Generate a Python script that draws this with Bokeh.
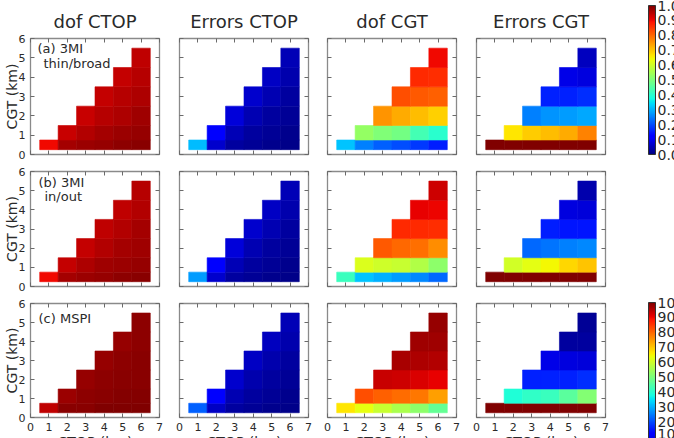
import numpy as np
from bokeh.plotting import figure
from bokeh.models import (ColorBar, Label, LinearAxis, LinearColorMapper,
                          SingleIntervalTicker, FixedTicker, PrintfTickFormatter,
                          ColumnDataSource, AllLabels)
from bokeh.layouts import gridplot, row
from bokeh.embed import file_html
from bokeh.resources import INLINE

# ---------------------------------------------------------------- data
CTOP = [1, 2, 3, 4, 5, 6]          # cloud-top height (km), one column each
CGT = [0.5, 1, 2, 3, 4, 5]         # cloud geometric thickness (km), one row each

COLUMN_TITLES = ["dof CTOP", "Errors CTOP", "dof CGT", "Errors CGT"]
ROW_TAGS = [["(a) 3MI", "thin/broad"], ["(b) 3MI", "in/out"], ["(c) MSPI"]]

DOF_TICKS = [0.0, 0.1, 0.2, 0.3, 0.4, 0.5, 0.6, 0.7, 0.8, 0.9, 1.0]
ERR_TICKS = [10, 20, 30, 40, 50, 60, 70, 80, 90, 100]

# Each panel: one list per CGT level; level k holds CTOP = CTOP[k:]
dof_ctop_a = [[0.90, 0.965, 0.975, 0.98, 0.985, 0.99],
              [0.935, 0.955, 0.965, 0.975, 0.98],
              [0.935, 0.95, 0.96, 0.97],
              [0.94, 0.95, 0.96],
              [0.94, 0.95],
              [0.945]]
err_ctop_a = [[31, 7, 3, 2, 1.5, 1],
              [12, 5, 3, 2, 1.5],
              [8, 4.5, 3, 2],
              [7, 4.5, 3],
              [6, 4],
              [5]]
dof_cgt_a = [[0.32, 0.25, 0.22, 0.20, 0.18, 0.155],
             [0.53, 0.505, 0.49, 0.43, 0.40],
             [0.75, 0.73, 0.71, 0.69],
             [0.825, 0.815, 0.805],
             [0.865, 0.86],
             [0.90]]
err_cgt_a = [[100, 100, 100, 100, 100, 100],
             [66.5, 69.5, 71, 73, 77],
             [25, 27, 28, 29],
             [16, 16, 17],
             [9, 8.5],
             [5.5]]

dof_ctop_b = [[0.90, 0.965, 0.975, 0.98, 0.985, 0.99],
              [0.94, 0.96, 0.97, 0.975, 0.98],
              [0.94, 0.955, 0.965, 0.97],
              [0.945, 0.955, 0.965],
              [0.945, 0.955],
              [0.95]]
err_ctop_b = [[28, 7, 3, 2, 1.5, 1],
              [12, 5, 3, 2, 1.5],
              [8, 4.5, 3, 2],
              [7, 4.5, 3],
              [6, 4],
              [5]]
dof_cgt_b = [[0.42, 0.32, 0.30, 0.28, 0.26, 0.23],
             [0.615, 0.60, 0.59, 0.565, 0.52],
             [0.815, 0.80, 0.79, 0.76],
             [0.865, 0.865, 0.86],
             [0.91, 0.905],
             [0.93]]
err_cgt_b = [[100, 100, 100, 100, 100, 100],
             [60.5, 62.5, 64.5, 68, 70],
             [23, 24, 25, 26],
             [15.5, 14.5, 14.5],
             [8.5, 8],
             [4]]

dof_ctop_c = [[0.945, 0.99, 0.99, 1.0, 1.0, 1.0],
              [0.975, 0.985, 0.99, 0.995, 0.995],
              [0.98, 0.985, 0.99, 0.99],
              [0.98, 0.985, 0.99],
              [0.98, 0.985],
              [0.985]]
err_ctop_c = [[22, 6, 3, 2, 1.5, 1],
              [11, 4.5, 3, 2, 1.5],
              [7, 4, 3, 2],
              [6, 4, 3],
              [5.5, 4],
              [5]]
dof_cgt_c = [[0.665, 0.63, 0.59, 0.555, 0.52, 0.47],
             [0.825, 0.805, 0.795, 0.785, 0.74],
             [0.937, 0.93, 0.92, 0.907],
             [0.963, 0.958, 0.955],
             [0.97, 0.97],
             [0.98]]
err_cgt_c = [[100, 100, 100, 100, 100, 100],
             [39, 41, 42, 46, 51],
             [16, 16, 16, 17],
             [9, 8.5, 8],
             [3, 3],
             [2]]

PANELS = [[dof_ctop_a, err_ctop_a, dof_cgt_a, err_cgt_a],
          [dof_ctop_b, err_ctop_b, dof_cgt_b, err_cgt_b],
          [dof_ctop_c, err_ctop_c, dof_cgt_c, err_cgt_c]]


# ---------------------------------------------------------------- colour map
def jet_palette(n=256):
    """Matplotlib's classic 'jet' colour map as hex strings."""
    red = ([0, 0.35, 0.66, 0.89, 1], [0, 0, 1, 1, 0.5])
    green = ([0, 0.125, 0.375, 0.64, 0.91, 1], [0, 0, 1, 1, 0, 0])
    blue = ([0, 0.11, 0.34, 0.65, 1], [0.5, 1, 1, 0, 0])
    x = np.linspace(0, 1, n)
    r = np.interp(x, *red)
    g = np.interp(x, *green)
    b = np.interp(x, *blue)
    return ["#%02x%02x%02x" % (int(round(rr * 255)), int(round(gg * 255)), int(round(bb * 255)))
            for rr, gg, bb in zip(r, g, b)]


JET = jet_palette()
dof_mapper = LinearColorMapper(palette=JET, low=0, high=1)
err_mapper = LinearColorMapper(palette=JET, low=0, high=100)

FONT = "DejaVu Sans"
TEXT = "#2a2a2a"
FRAME = "#8a8a8a"

# ---------------------------------------------------------------- layout
PAGE_W, PAGE_H = 674, 438
FW = 129
FH = [116, 115, 114]
B_LEFT = [30, 10, 9, 10]
B_RIGHT = [10, 10, 10, 5]
B_TOP = [38, 9, 9]
B_BOTTOM = [8, 8, 21]
# pixel offsets (from the frame's top-left) of the row tags
TAG_OFFSETS = [[(7, 2), (13, 17)], [(8, 3.5), (14, 17.5)], [(8, 7.5)]]


def cell_edges(levels):
    lv = np.asarray(levels, dtype=float)
    mids = (lv[1:] + lv[:-1]) / 2
    lower = np.concatenate([[lv[0] - (lv[1] - lv[0]) / 2], mids])
    upper = np.concatenate([mids, [lv[-1] + (lv[-1] - lv[-2]) / 2]])
    return lower, upper


LOWER, UPPER = cell_edges(CGT)


def panel_source(rows):
    left, right, bottom, top, val = [], [], [], [], []
    for k, vals in enumerate(rows):
        for c, v in zip(CTOP[k:], vals):
            left.append(c - 0.5)
            right.append(c + 0.5)
            bottom.append(LOWER[k])
            top.append(UPPER[k])
            val.append(v)
    return ColumnDataSource(dict(left=left, right=right, bottom=bottom, top=top, v=val))


def style_axis(ax, show_labels):
    ax.ticker = SingleIntervalTicker(interval=1)
    ax.axis_line_color = None
    ax.major_tick_in = 4
    ax.major_tick_out = 0
    ax.major_tick_line_color = "#6a6a6a"
    ax.minor_tick_line_color = None
    if show_labels:
        ax.major_label_text_font = FONT
        ax.major_label_text_font_size = "11px"
        ax.major_label_text_color = TEXT
        ax.major_label_standoff = 1
    else:
        # tick marks only
        ax.major_label_text_color = None
        ax.major_label_text_font_size = "1px"
        ax.major_label_standoff = 0


def make_panel(r, c):
    p = figure(frame_width=FW, frame_height=FH[r], x_range=(0, 7), y_range=(0, 6),
               output_backend="svg", toolbar_location=None,
               title=COLUMN_TITLES[c] if r == 0 else None,
               title_location="above" if r == 0 else None,
               min_border_left=B_LEFT[c], min_border_right=B_RIGHT[c],
               min_border_top=B_TOP[r], min_border_bottom=B_BOTTOM[r],
               background_fill_color="white", border_fill_color="white",
               outline_line_color=FRAME, outline_line_width=1.3)
    p.grid.visible = False
    if r == 0:
        p.title.align = "center"
        p.title.text_font = FONT
        p.title.text_font_size = "18px"
        p.title.text_font_style = "normal"
        p.title.text_color = TEXT
        p.title.standoff = 5

    p.add_layout(LinearAxis(), "above")
    p.add_layout(LinearAxis(), "right")
    for ax in p.xaxis:
        style_axis(ax, show_labels=(r == 2 and ax in p.below))
    for ax in p.yaxis:
        style_axis(ax, show_labels=(c == 0 and ax in p.left))

    if c == 0:
        yl = p.left[0]
        yl.axis_label = "CGT (km)"
        yl.axis_label_text_font = FONT
        yl.axis_label_text_font_size = "14px"
        yl.axis_label_text_font_style = "normal"
        yl.axis_label_text_color = TEXT
        yl.axis_label_standoff = -4

    if r == 2:
        xl = p.below[0]
        xl.axis_label = "CTOP (km)"
        xl.axis_label_text_font = FONT
        xl.axis_label_text_font_size = "14px"
        xl.axis_label_text_font_style = "normal"
        xl.axis_label_text_color = TEXT
        xl.axis_label_standoff = 0

    mapper = dof_mapper if c in (0, 2) else err_mapper
    src = panel_source(PANELS[r][c])
    p.quad(left="left", right="right", bottom="bottom", top="top", source=src,
           fill_color={"field": "v", "transform": mapper},
           line_color={"field": "v", "transform": mapper}, line_width=0.6)

    if c == 0:
        for text, (dx, dy) in zip(ROW_TAGS[r], TAG_OFFSETS[r]):
            p.add_layout(Label(x=dx * 7 / FW, y=6 - dy * 6 / FH[r], text=text,
                               text_font=FONT, text_font_size="13px",
                               text_color=TEXT, text_baseline="top", text_align="left"))
    return p


grid = gridplot([[make_panel(r, c) for c in range(4)] for r in range(3)],
                toolbar_location=None)

# ---------------------------------------------------------------- colour bars
CB_W = 64
cb_fig = figure(width=CB_W, height=PAGE_H, x_range=(0, 1), y_range=(0, 1),
                output_backend="svg", toolbar_location=None, min_border=0,
                x_axis_type=None, y_axis_type=None, outline_line_color=None,
                title_location=None, background_fill_color="white",
                border_fill_color="white")


def bar(mapper, ticks, fmt, loc):
    return ColorBar(color_mapper=mapper, ticker=FixedTicker(ticks=ticks),
                    formatter=PrintfTickFormatter(format=fmt), location=loc,
                    orientation="vertical", width=7, height=149, padding=0,
                    label_standoff=2, major_label_text_font=FONT,
                    major_label_text_font_size="14px", major_label_text_color=TEXT,
                    major_label_policy=AllLabels(),
                    major_tick_line_color=None, minor_tick_line_color=None,
                    bar_line_color="#333333", bar_line_width=1,
                    background_fill_alpha=0, border_line_color=None)


cb_fig.add_layout(bar(dof_mapper, DOF_TICKS, "%.1f", (38, 284)), "center")
cb_fig.add_layout(bar(err_mapper, ERR_TICKS, "%d", (38, -13)), "center")

page = row(grid, cb_fig, width=PAGE_W, height=PAGE_H, styles={"overflow": "hidden"})
open("out.html", "w").write(file_html(page, INLINE))
